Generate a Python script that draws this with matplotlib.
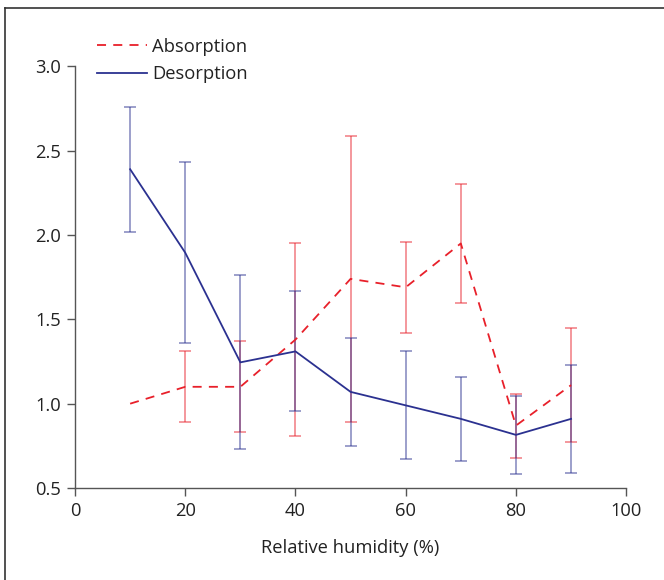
import matplotlib
matplotlib.use("Agg")
import matplotlib.pyplot as plt
from matplotlib.lines import Line2D

# data
humidity = [10, 20, 30, 40, 50, 60, 70, 80, 90]
absorption = [1.00, 1.10, 1.10, 1.38, 1.74, 1.69, 1.95, 0.87, 1.11]
absorption_err = [0.0, 0.21, 0.27, 0.57, 0.85, 0.27, 0.355, 0.19, 0.34]
desorption = [2.39, 1.895, 1.245, 1.31, 1.07, 0.99, 0.91, 0.815, 0.91]
desorption_err = [0.37, 0.535, 0.515, 0.356, 0.32, 0.32, 0.25, 0.23, 0.32]

xticks = [0, 20, 40, 60, 80, 100]
yticks = [0.5, 1.0, 1.5, 2.0, 2.5, 3.0]

RED = "#e8202a"
BLUE = "#2b3190"
AXC = "#555555"
FS = 13.2

plt.rcParams["font.family"] = ["Open Sans", "DejaVu Sans"]

fig = plt.figure(figsize=(6.64, 5.80), dpi=100)
ax = fig.add_axes([0.113, 0.1586, 0.830, 0.727])


def draw_errbars(x, y, err, color):
    # skip points without a spread (no bar drawn there in the original)
    keep = [i for i, e in enumerate(err) if e > 0]
    ax.errorbar([x[i] for i in keep], [y[i] for i in keep],
                yerr=[err[i] for i in keep], fmt="none", ecolor=color,
                alpha=0.5, elinewidth=1.3, capsize=4, capthick=1.3)


draw_errbars(humidity, absorption, absorption_err, RED)
draw_errbars(humidity, desorption, desorption_err, BLUE)

ax.plot(humidity, absorption, color=RED, lw=1.3, dashes=(5, 4), label="Absorption")
ax.plot(humidity, desorption, color=BLUE, lw=1.3, label="Desorption")

ax.set_xlim(0, 100)
ax.set_ylim(0.5, 3.0)
ax.set_xticks(xticks)
ax.set_yticks(yticks)
ax.set_yticklabels([f"{v:.1f}" for v in yticks])
ax.tick_params(direction="out", length=6, width=1, color=AXC,
               labelsize=FS, labelcolor="#222222", pad=4)
for s in ["top", "right"]:
    ax.spines[s].set_visible(False)
for s in ["left", "bottom"]:
    ax.spines[s].set_color(AXC)
    ax.spines[s].set_linewidth(1)

ax.set_xlabel("Relative humidity (%)", fontsize=FS, color="#222222", labelpad=14)

ax.legend(loc="upper left", bbox_to_anchor=(0.027, 1.085), frameon=False,
          fontsize=FS, handlelength=2.7, handletextpad=0.28, labelspacing=0.5,
          borderaxespad=0.0, labelcolor="#222222")

# partial outer frame (top and left edges)
fig.add_artist(Line2D([5 / 664, 1.0], [1 - 8 / 580, 1 - 8 / 580],
                      transform=fig.transFigure, color="#333333", lw=1.2))
fig.add_artist(Line2D([5 / 664, 5 / 664], [0.0, 1 - 8 / 580],
                      transform=fig.transFigure, color="#333333", lw=1.2))

fig.savefig("out.png", dpi=100)
